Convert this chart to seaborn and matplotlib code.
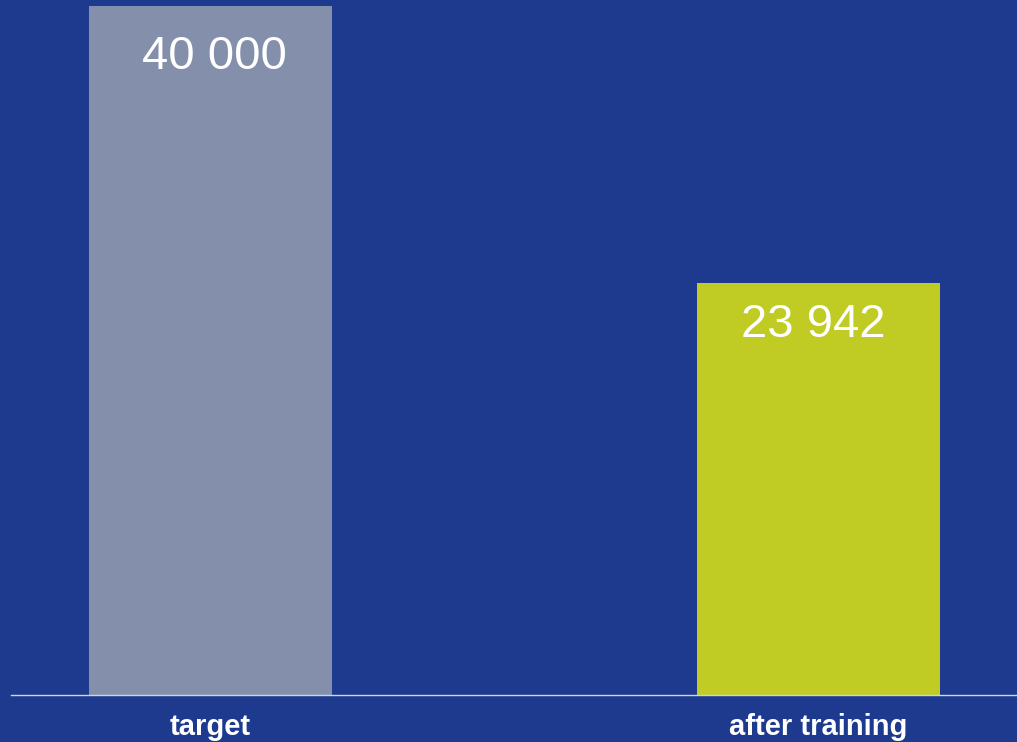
import matplotlib
matplotlib.use("Agg")
import matplotlib.pyplot as plt
import seaborn as sns
import pandas as pd

categories = ["target", "after training"]
values = [40000, 23942]
value_labels = ["40 000", "23 942"]

bg = "#1e3a8f"
bar_colors = ["#8490ab", "#c0cc24"]

sns.set_theme(style="white")
plt.rcParams["font.family"] = ["Liberation Sans", "DejaVu Sans"]

df = pd.DataFrame({"category": categories, "value": values})

fig = plt.figure(figsize=(10.17, 7.42), dpi=100, facecolor=bg)
ax = fig.add_axes([11 / 1017, 47 / 742, 1006 / 1017, 695 / 742])
ax.set_facecolor(bg)

sns.barplot(data=df, x="category", y="value", hue="category",
            palette=bar_colors, width=0.4, saturation=1, legend=False,
            linewidth=0, ax=ax)

ax.set_xlim(-0.328, 1.3265)
ax.set_ylim(0, 40350)
ax.set_xlabel("")
ax.set_ylabel("")
ax.set_yticks([])
ax.tick_params(axis="x", length=0, pad=13, labelsize=21, labelcolor="white")
for lbl in ax.get_xticklabels():
    lbl.set_fontweight("bold")

for side in ["top", "left", "right"]:
    ax.spines[side].set_visible(False)
ax.spines["bottom"].set_color("#d0d4e0")
ax.spines["bottom"].set_linewidth(1.0)

# label nudges (points)
offsets = [(3, -21), (-4, -15)]
for i, (v, txt) in enumerate(zip(values, value_labels)):
    ax.annotate(txt, xy=(i, v), xytext=offsets[i], textcoords="offset points",
                ha="center", va="top", color="white", fontsize=34)

fig.savefig("out.png", dpi=100, facecolor=bg)
